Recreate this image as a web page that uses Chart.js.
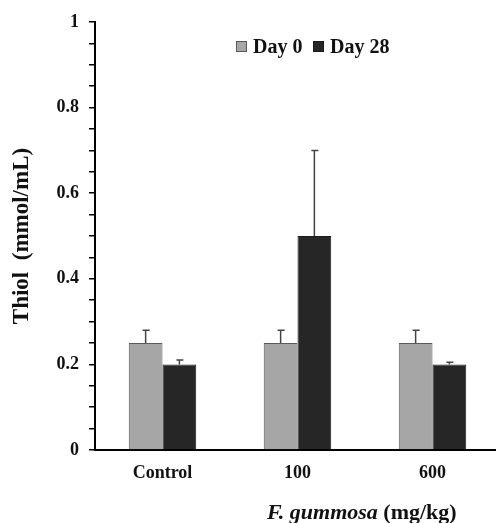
<!DOCTYPE html>
<html>
<head>
<meta charset="utf-8">
<script src="https://cdn.jsdelivr.net/npm/chart.js@4"></script>
<style>
  html, body { margin: 0; padding: 0; background: #fff; overflow: hidden; }
  #wrap { width: 500px; height: 523px; position: relative; }
</style>
</head>
<body>
<div id="wrap"><canvas id="chart"></canvas></div>
<script>
// ─── data ───────────────────────────────────────────────────────────────────
const categories = ['Control', '100', '600'];
const day0 = [0.25, 0.25, 0.25];
const day28 = [0.2, 0.5, 0.2];
const day0Err = [0.03, 0.03, 0.03];
const day28Err = [0.01, 0.2, 0.005];
const seriesNames = ['Day 0', 'Day 28'];

const FONT = "'Liberation Serif', 'Times New Roman', serif";

// ─── error bars (upper only) ────────────────────────────────────────────────
const errorBars = {
  id: 'errorBars',
  afterDatasetsDraw(chart) {
    const { ctx, scales: { y } } = chart;
    const errs = [day0Err, day28Err];
    ctx.save();
    ctx.strokeStyle = '#444';
    ctx.lineWidth = 1.5;
    chart.data.datasets.forEach((ds, i) => {
      const meta = chart.getDatasetMeta(i);
      meta.data.forEach((bar, j) => {
        const top = y.getPixelForValue(ds.data[j] + errs[i][j]);
        const x = bar.x;
        ctx.beginPath();
        ctx.moveTo(x, bar.y);
        ctx.lineTo(x, top);
        ctx.moveTo(x - 3, top);
        ctx.lineTo(x + 4, top);
        ctx.stroke();
      });
    });
    ctx.restore();
  },
};

// ─── legend + x title ───────────────────────────────────────────────────────
const extras = {
  id: 'extras',
  afterDraw(chart) {
    const { ctx } = chart;
    ctx.save();
    const pos = [[236, 253], [313, 330]];
    chart.data.datasets.forEach((ds, i) => {
      const [bx, tx] = pos[i];
      ctx.fillStyle = ds.backgroundColor;
      ctx.strokeStyle = ds.borderColor;
      ctx.lineWidth = 1;
      ctx.fillRect(bx, 41, 11, 11);
      ctx.strokeRect(bx + 0.5, 41.5, 10, 10);
      ctx.fillStyle = '#111';
      ctx.font = `bold 20px ${FONT}`;
      ctx.textBaseline = 'alphabetic';
      ctx.fillText(ds.label, tx, 53);
    });

    // x axis title: "F. gummosa (mg/kg)"
    ctx.fillStyle = '#111';
    ctx.textBaseline = 'middle';
    ctx.font = `italic bold 22px ${FONT}`;
    const part1 = 'F. gummosa';
    const w1 = ctx.measureText(part1).width;
    ctx.fillText(part1, 267, 513);
    ctx.font = `bold 22px ${FONT}`;
    ctx.fillText(' (mg/kg)', 267 + w1, 513);
    ctx.restore();
  },
};

new Chart(document.getElementById('chart'), {
  type: 'bar',
  data: {
    labels: categories,
    datasets: [
      {
        label: seriesNames[0],
        data: day0,
        backgroundColor: '#a6a6a6',
        borderColor: '#595959',
        borderWidth: 1,
        categoryPercentage: 0.5,
        barPercentage: 1,
      },
      {
        label: seriesNames[1],
        data: day28,
        backgroundColor: '#262626',
        borderColor: '#1a1a1a',
        borderWidth: 1,
        categoryPercentage: 0.5,
        barPercentage: 1,
      },
    ],
  },
  options: {
    responsive: true,
    maintainAspectRatio: false,
    animation: false,
    layout: { padding: { top: 22, left: 0, right: 0, bottom: 0 } },
    plugins: {
      legend: { display: false },
      tooltip: { enabled: false },
    },
    scales: {
      x: {
        grid: { display: false },
        border: { color: '#000', width: 2 },
        ticks: { color: '#111', padding: 5, font: { family: FONT, size: 18, weight: 'bold' } },
        afterFit(scale) { scale.height = 73; },
      },
      y: {
        min: 0,
        max: 1,
        grid: { drawOnChartArea: false, drawTicks: true, tickLength: 6, color: '#000', lineWidth: 1.5 },
        border: { color: '#000', width: 2 },
        ticks: {
          stepSize: 0.05,
          autoSkip: false,
          padding: 10,
          color: '#111',
          font: { family: FONT, size: 18, weight: 'bold' },
          callback(v) {
            const k = Math.round(v * 5);
            if (Math.abs(v * 5 - k) > 1e-6) return '';
            if (k === 0) return '0';
            if (k === 5) return '1';
            return (k / 5).toFixed(1);
          },
        },
        title: {
          display: true,
          text: 'Thiol  (mmol/mL)',
          color: '#111',
          padding: { top: 8, bottom: 0 },
          font: { family: FONT, size: 23, weight: 'bold' },
        },
        afterFit(scale) { scale.width = 95; },
      },
    },
  },
  plugins: [errorBars, extras],
});
</script>
</body>
</html>
